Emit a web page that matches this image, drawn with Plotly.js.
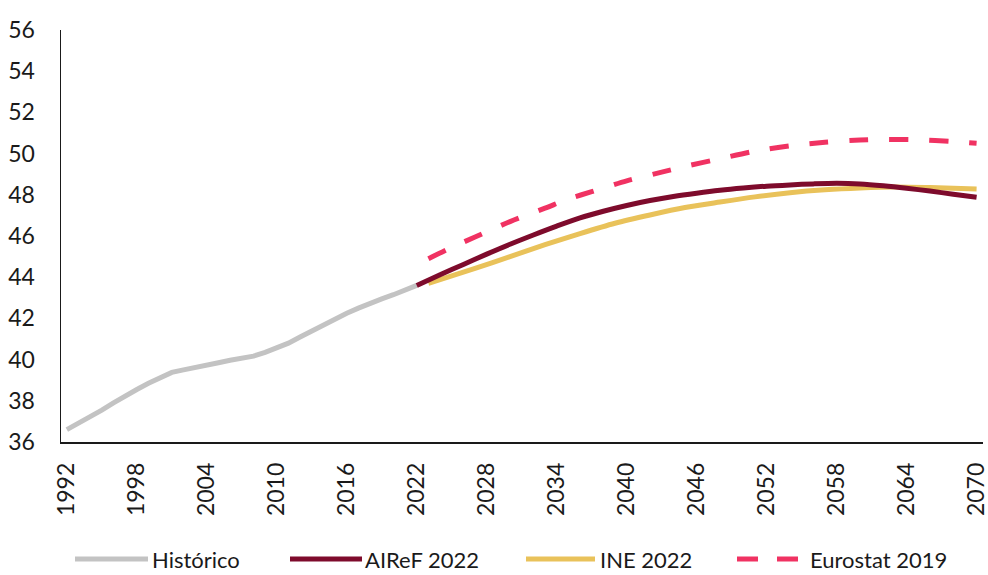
<!DOCTYPE html>
<html>
<head>
<meta charset="utf-8">
<script src="https://cdn.plot.ly/plotly-3.0.1.min.js"></script>
<style>html,body{margin:0;padding:0;background:#fff;}#chart{width:988px;height:575px;}</style>
</head>
<body>
<div id="chart"></div>
<script>
const seriesNames = ["Histórico", "AIReF 2022", "INE 2022", "Eurostat 2019"];

const histYears = [1992,1993,1994,1995,1996,1997,1998,1999,2000,2001,2002,2003,2004,2005,2006,2007,2008,2009,2010,2011,2012,2013,2014,2015,2016,2017,2018,2019,2020,2021,2022];
const histVals  = [36.6,36.9,37.2,37.55,37.9,38.25,38.55,38.85,39.12,39.38,39.5,39.6,39.72,39.85,39.97,40.07,40.17,40.35,40.55,40.8,41.1,41.4,41.7,42.0,42.25,42.5,42.75,42.95,43.15,43.38,43.6];

const airefYears = [2022,2024,2026,2028,2030,2032,2034,2036,2038,2040,2042,2044,2046,2048,2050,2052,2054,2056,2058,2060,2062,2064,2066,2068,2070];
const airefVals  = [43.6,44.12,44.62,45.12,45.6,46.05,46.48,46.88,47.2,47.48,47.72,47.92,48.08,48.22,48.33,48.42,48.48,48.53,48.56,48.53,48.44,48.32,48.18,48.03,47.88];

const ineYears = [2023,2027,2030,2033,2036,2039,2042,2045,2048,2051,2054,2057,2060,2063,2066,2070];
const ineVals  = [43.7,44.43,45.0,45.58,46.12,46.62,47.02,47.38,47.65,47.9,48.1,48.24,48.33,48.38,48.35,48.28];

const euroYears = [2023,2025,2027,2030,2033,2035,2037,2040,2043,2045,2048,2051,2054,2057,2060,2062,2065,2068,2070];
const euroVals  = [44.9,45.45,45.95,46.7,47.35,47.8,48.15,48.68,49.1,49.38,49.75,50.12,50.38,50.55,50.66,50.69,50.67,50.58,50.5];

const xTicks = [1992,1998,2004,2010,2016,2022,2028,2034,2040,2046,2052,2058,2064,2070];
const yTicks = [36,38,40,42,44,46,48,50,52,54,56];

const colors = ["#C3C3C3", "#7E0B2C", "#E9C25A", "#F03262"];
const dashes = ["solid", "solid", "solid", "19px,21px"];
const FONT = "Lato, 'Open Sans', sans-serif";

const xs = [histYears, airefYears, ineYears, euroYears];
const ys = [histVals, airefVals, ineVals, euroVals];

const traces = seriesNames.map((n, i) => ({
  type: "scatter", mode: "lines", name: n,
  x: xs[i], y: ys[i],
  line: {color: colors[i], width: 5, dash: dashes[i], shape: i === 0 ? "linear" : "spline", smoothing: 0.8},
  showlegend: false, hoverinfo: "x+y"
}));
// draw order: historic, eurostat, INE, AIReF on top
const ordered = [traces[0], traces[3], traces[2], traces[1]];

// custom legend (paper coords)
const L = 61, W = 922, B = 442, H = 412;
const px = v => (v - L) / W;
const legY = (B - 559) / H;
const legSamples = [[75,148,151],[290,362,364],[526,595,599],[737,800,809]];
const shapes = [];
const annotations = [];
seriesNames.forEach((n, i) => {
  const s = legSamples[i];
  shapes.push({type: "line", xref: "paper", yref: "paper", x0: px(s[0]), x1: px(s[1]), y0: legY, y1: legY,
    line: {color: colors[i], width: 5, dash: i === 3 ? "21px,19px" : "solid"}});
  annotations.push({xref: "paper", yref: "paper", x: px(s[2]), y: legY, xanchor: "left", yanchor: "middle",
    text: n, showarrow: false, borderpad: 0, font: {family: FONT, size: 22, color: "#1a1a1a"}});
});

const layout = {
  width: 988, height: 575,
  margin: {l: L, r: 988 - L - W, t: 30, b: 575 - B},
  paper_bgcolor: "#fff", plot_bgcolor: "#fff",
  font: {family: FONT, size: 22, color: "#1a1a1a"},
  showlegend: false,
  xaxis: {
    range: [1991.5, 2070.55], tickvals: xTicks, ticktext: xTicks.map(String),
    tickangle: -90, showgrid: false, zeroline: false, showline: true, linecolor: "#1a1a1a", linewidth: 1.5,
    ticks: "", ticklabelstandoff: 10, ticklabeloverflow: "allow",
    tickfont: {family: FONT, size: 23, color: "#1a1a1a"}, fixedrange: true
  },
  yaxis: {
    range: [36, 56], tickvals: yTicks, ticktext: yTicks.map(String),
    showgrid: false, zeroline: false, showline: true, linecolor: "#1a1a1a", linewidth: 1.5,
    ticks: "", ticklabelstandoff: 20, tickfont: {family: FONT, size: 23, color: "#1a1a1a"}, fixedrange: true
  },
  shapes: shapes,
  annotations: annotations
};

Plotly.newPlot("chart", ordered, layout, {displayModeBar: false, staticPlot: true});
</script>
</body>
</html>
